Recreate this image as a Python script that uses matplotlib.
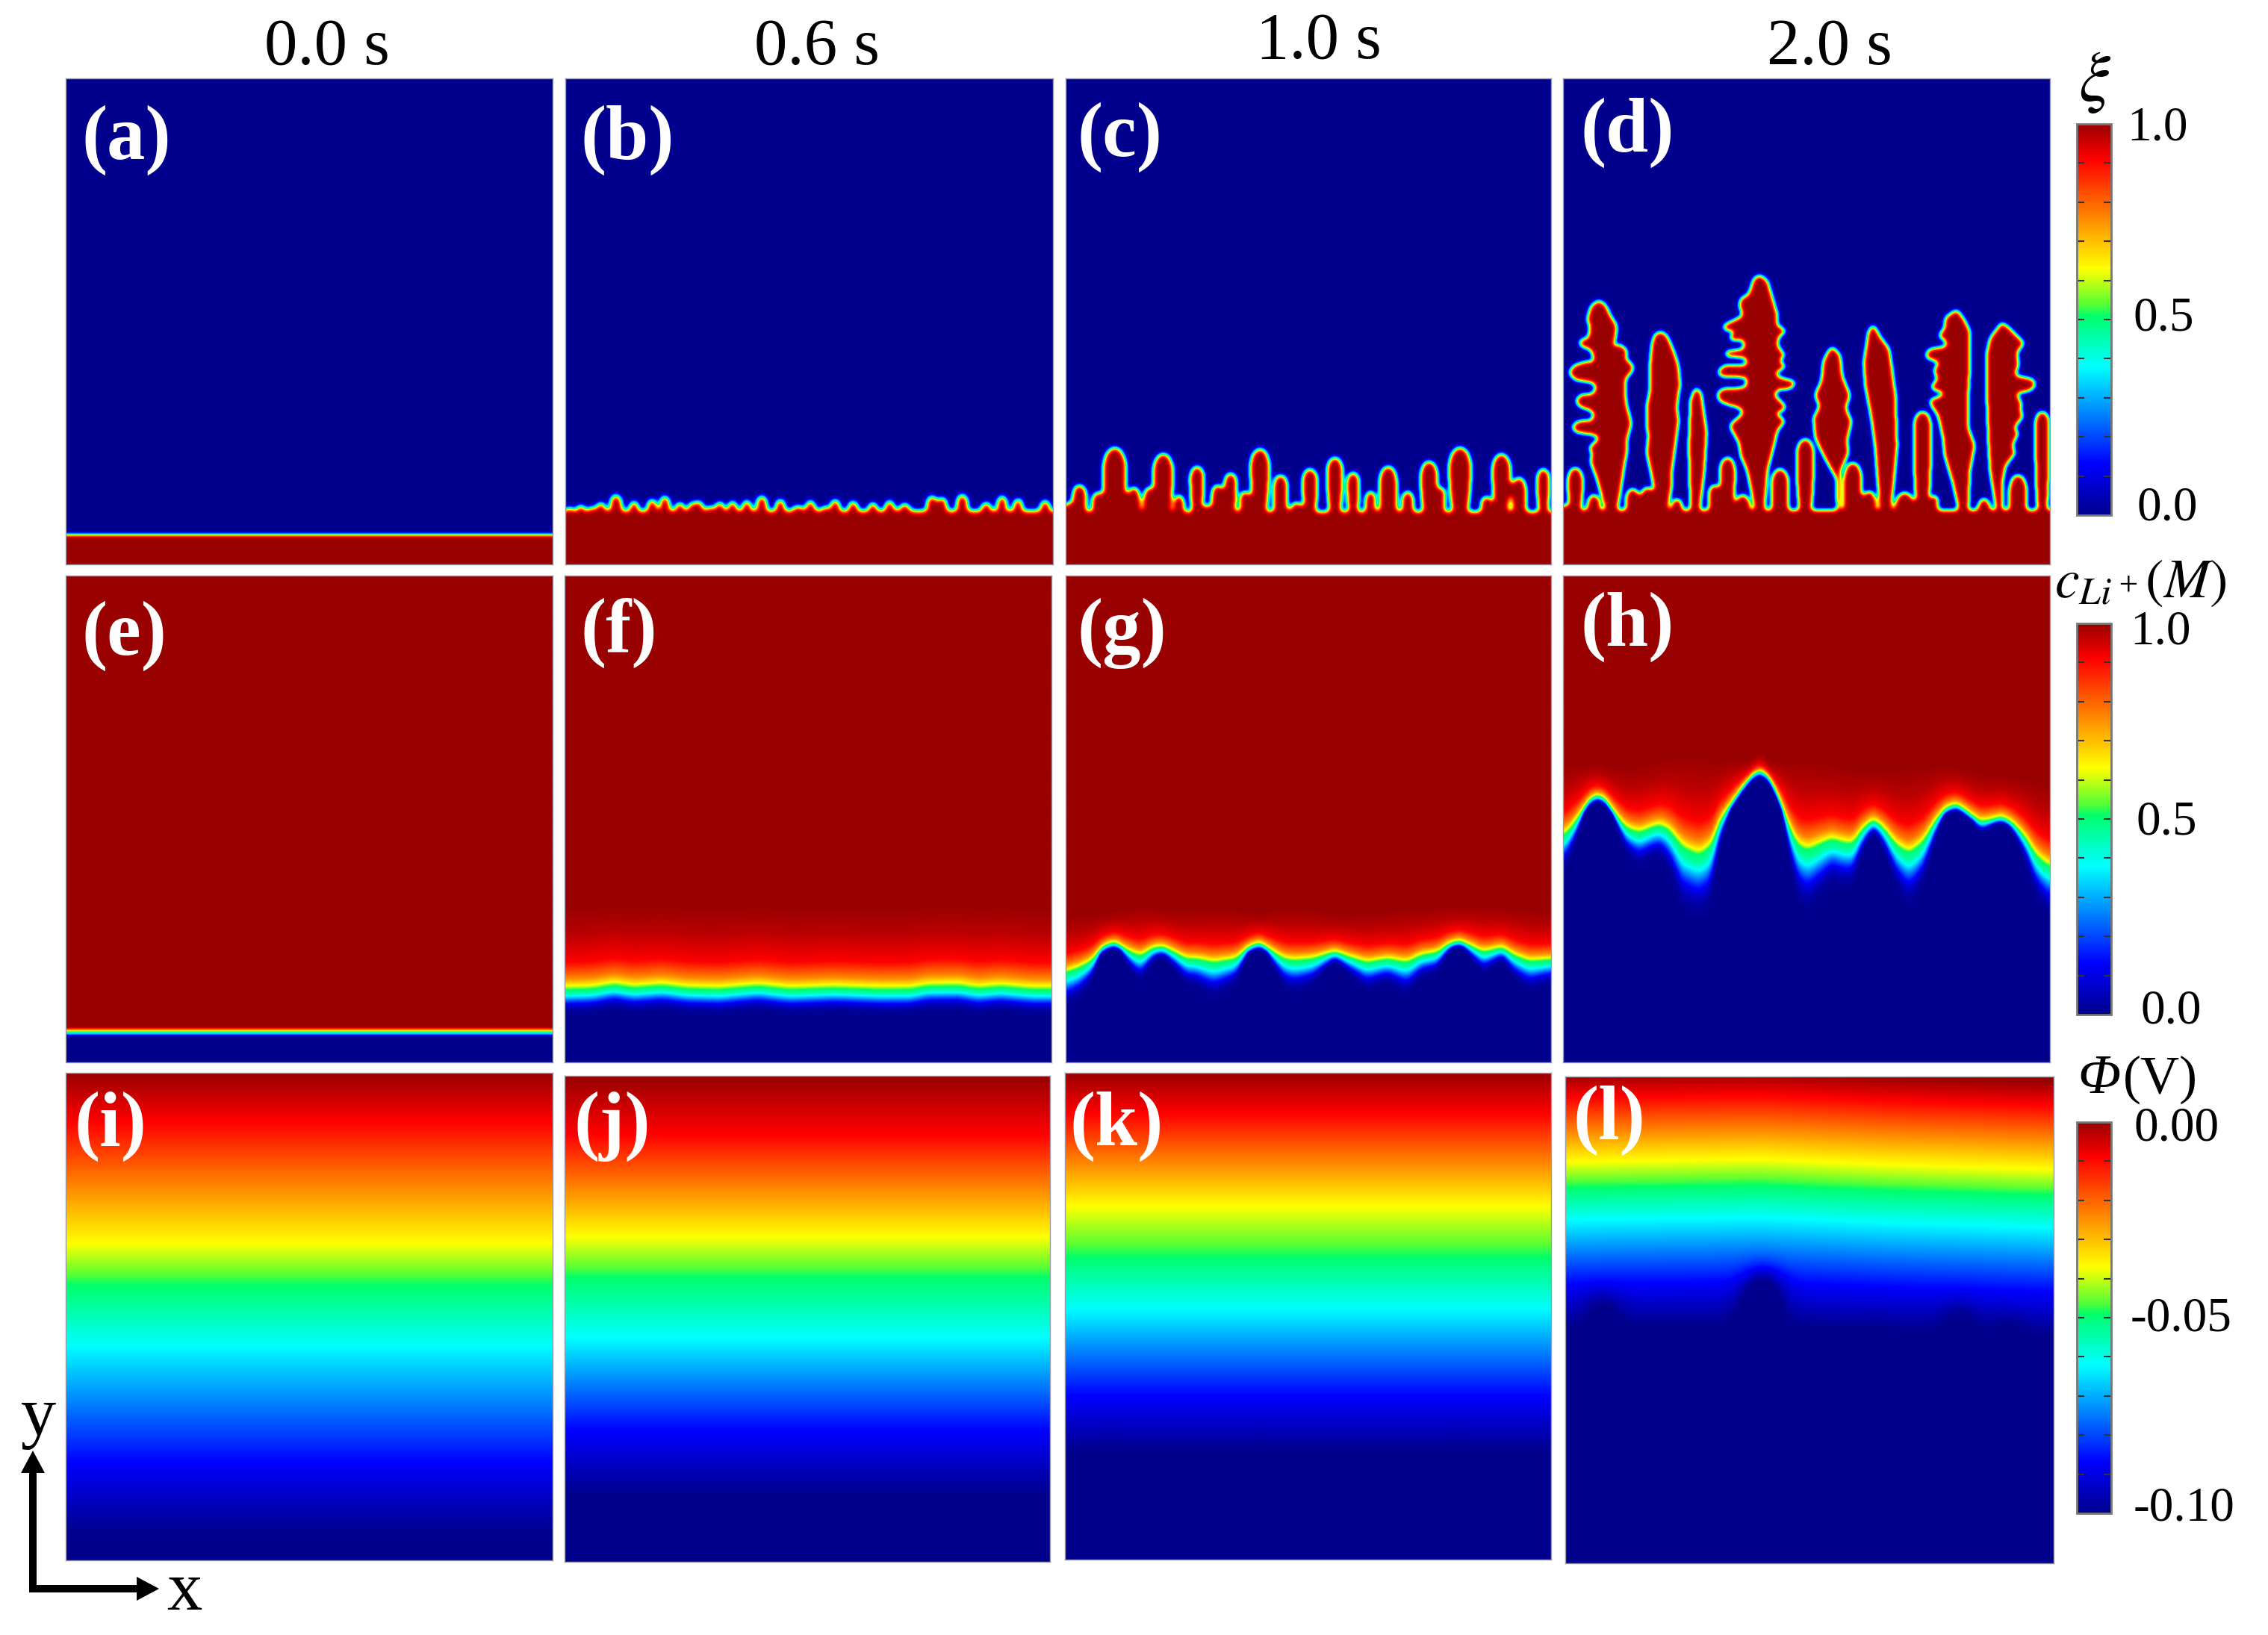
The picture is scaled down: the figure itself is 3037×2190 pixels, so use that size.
import numpy as np
import matplotlib
matplotlib.use('Agg')
import matplotlib.pyplot as plt
from matplotlib.path import Path
from matplotlib.cm import ScalarMappable
from matplotlib.colors import Normalize, LinearSegmentedColormap

plt.rcParams['font.family'] = ['Liberation Serif', 'DejaVu Serif']
plt.rcParams['mathtext.fontset'] = 'stix'

W_PX, H_PX = 3037, 2190

time_labels = ['0.0 s', '0.6 s', '1.0 s', '2.0 s']
time_x = [438, 1094, 1766, 2450]
time_y = [64, 64, 56, 64]

panel_names = ['(a)', '(b)', '(c)', '(d)', '(e)', '(f)', '(g)', '(h)', '(i)', '(j)', '(k)', '(l)']
panel_boxes = [(88, 105, 740, 756), (757, 105, 1410, 756), (1427, 105, 2077, 756), (2093, 105, 2745, 756),
               (88, 771, 740, 1423), (756, 771, 1408, 1423), (1427, 771, 2077, 1423), (2093, 771, 2745, 1423),
               (88, 1437, 740, 2090), (756, 1441, 1406, 2092), (1426, 1437, 2077, 2089), (2096, 1442, 2750, 2094)]
label_xy = [(110, 188), (778, 188), (1443, 184), (2117, 178),
            (110, 852), (778, 848), (1443, 848), (2117, 840),
            (100, 1509), (769, 1509), (1433, 1509), (2107, 1501)]

# colour bar of the picture, position and colour
cmap_pos = [0.0, 0.13, 0.38, 0.51, 0.54, 0.63, 0.91, 1.0]
cmap_col = [(0, 0, 0.55), (0, 0, 1), (0, 1, 1), (0, 1, 0.42), (0.35, 1, 0.2), (1, 1, 0), (1, 0, 0), (0.6, 0, 0)]
field_cmap = LinearSegmentedColormap.from_list('field', list(zip(cmap_pos, cmap_col)), N=512)

# crops the outlines were read from: left, top, x scale, y scale
CROP_B = (750, 640, 2.34, 3.0)
CROP_C = (1420, 560, 2.34, 3.0)
CROP_D = (2080, 330, 2.306, 3.0)
CROP_F = (750, 1240, 2.34, 3.0)
CROP_G = (1420, 1180, 2.34, 3.0)
CROP_H = (2080, 1000, 2.306, 3.0)
CROP_L = (2080, 1430, 2.306, 3.0)

# small fingers: centre x, tip y, half width
fingers_b = [(30, 120, 12), (65, 110, 10), (100, 118, 12), (128, 100, 12), (175, 70, 16), (232, 95, 12), (288, 88, 13),
             (328, 75, 13), (375, 100, 12), (415, 100, 12), (435, 95, 11), (470, 115, 11), (500, 98, 12), (540, 95, 12),
             (585, 92, 12), (632, 75, 14), (690, 88, 12), (745, 115, 25), (785, 92, 12), (830, 115, 10), (862, 88, 12),
             (918, 95, 13), (980, 100, 11), (1033, 92, 12), (1080, 105, 18), (1165, 75, 14), (1197, 80, 12),
             (1260, 68, 15), (1335, 100, 14), (1385, 75, 13), (1435, 85, 12), (1520, 92, 13)]
fingers_c = [(30, 340, 15), (60, 270, 20), (118, 300, 18), (170, 120, 34), (230, 280, 17), (280, 280, 17), (322, 145, 30),
             (372, 310, 13), (428, 195, 20), (460, 350, 12), (492, 270, 16), (533, 222, 18), (578, 295, 14), (625, 125, 28),
             (690, 230, 20), (740, 340, 20), (782, 205, 22), (860, 160, 23), (917, 220, 18), (972, 295, 14), (1027, 195, 25),
             (1088, 295, 16), (1155, 175, 25), (1192, 280, 12), (1252, 120, 33), (1335, 315, 15), (1382, 145, 27),
             (1437, 240, 20), (1513, 205, 18)]
fingers_d = [(40, 1040, 18), (68, 890, 22), (125, 1000, 18), (245, 975, 20), (290, 970, 20), (382, 1015, 15), (497, 960, 15),
             (538, 850, 22), (585, 1000, 22), (700, 895, 25), (778, 775, 25), (925, 870, 25), (975, 985, 20), (1085, 990, 30),
             (1140, 665, 25), (1178, 1000, 8), (1330, 1015, 18), (1435, 920, 25), (1510, 665, 20)]

# the tall dendrites of panel d
outlines_d = [
    [(165, 1065), (135, 930), (118, 870), (120, 820), (108, 810), (130, 790), (145, 765), (125, 755), (70, 745), (58, 725),
     (75, 705), (125, 700), (125, 660), (85, 645), (68, 620), (85, 598), (125, 595), (135, 560), (120, 545), (70, 535),
     (48, 510), (65, 480), (100, 465), (125, 470), (125, 440), (115, 410), (85, 400), (80, 380), (110, 370), (115, 320),
     (105, 295), (118, 240), (140, 218), (160, 235), (175, 280), (195, 320), (190, 370), (180, 410), (205, 395), (228, 420),
     (220, 450), (245, 480), (245, 500), (222, 530), (220, 590), (225, 640), (240, 710), (225, 780), (225, 830), (215, 900),
     (210, 950), (195, 1065)],
    [(325, 1065), (305, 920), (290, 830), (295, 760), (290, 720), (290, 640), (300, 580), (300, 480), (305, 400), (312, 360),
     (330, 342), (350, 360), (370, 420), (385, 480), (390, 560), (385, 590), (380, 650), (385, 700), (375, 800), (365, 900),
     (365, 960), (350, 1065)],
    [(425, 1065), (420, 800), (425, 620), (440, 565), (455, 590), (472, 750), (465, 900), (450, 1065)],
    [(625, 1065), (600, 900), (580, 840), (575, 790), (545, 720), (590, 670), (580, 650), (520, 625), (505, 600), (520, 575),
     (595, 570), (600, 525), (515, 520), (510, 500), (530, 480), (600, 480), (595, 445), (535, 440), (530, 425), (590, 415),
     (590, 375), (545, 375), (550, 355), (590, 340), (530, 335), (525, 320), (570, 290), (590, 280), (575, 240), (580, 210),
     (605, 195), (620, 130), (637, 115), (660, 140), (680, 230), (690, 270), (690, 320), (720, 340), (695, 360), (690, 400),
     (715, 440), (690, 460), (720, 480), (680, 510), (700, 530), (748, 545), (735, 570), (690, 575), (680, 600), (715, 640),
     (715, 655), (680, 670), (715, 700), (690, 740), (680, 800), (660, 900), (650, 1065)],
    [(878, 1065), (875, 930), (840, 850), (810, 770), (805, 690), (825, 640), (808, 600), (830, 540), (835, 460), (860, 402),
     (885, 440), (890, 520), (915, 600), (900, 650), (920, 700), (905, 780), (910, 830), (885, 900), (885, 1065)],
    [(1010, 1065), (995, 800), (985, 700), (965, 560), (960, 470), (975, 340), (988, 315), (1010, 370), (1035, 410), (1045, 500),
     (1055, 600), (1060, 800), (1050, 950), (1040, 1065)],
    [(1255, 1065), (1235, 950), (1210, 840), (1205, 770), (1190, 680), (1160, 620), (1205, 600), (1205, 585), (1165, 570),
     (1190, 530), (1175, 500), (1195, 465), (1150, 445), (1160, 415), (1215, 405), (1215, 380), (1190, 360), (1210, 330),
     (1210, 290), (1245, 255), (1270, 300), (1285, 340), (1285, 480), (1280, 600), (1280, 730), (1300, 800), (1285, 900),
     (1280, 1065)],
    [(1370, 1065), (1350, 900), (1345, 780), (1340, 600), (1340, 430), (1350, 370), (1387, 305), (1420, 350), (1455, 390),
     (1430, 420), (1435, 480), (1420, 520), (1480, 535), (1488, 560), (1470, 578), (1425, 590), (1445, 630), (1440, 660),
     (1450, 680), (1420, 730), (1435, 750), (1415, 800), (1425, 830), (1395, 880), (1385, 950), (1385, 1065)],
]

# green line of the concentration panels
iface_f = [(15, 258), (100, 255), (170, 240), (230, 252), (320, 243), (400, 255), (500, 258), (620, 245), (720, 258), (860, 252),
           (1000, 258), (1100, 257), (1150, 245), (1250, 243), (1310, 255), (1380, 247), (1480, 258), (1535, 258)]
iface_g = [(15, 370), (60, 350), (100, 320), (130, 265), (170, 245), (210, 280), (250, 305), (290, 270), (322, 265), (360, 290),
           (395, 315), (425, 315), (480, 330), (550, 315), (590, 265), (625, 248), (660, 280), (700, 315), (730, 322), (790, 315),
           (825, 300), (860, 285), (900, 305), (960, 330), (1025, 315), (1085, 330), (1130, 300), (1180, 290), (1215, 255),
           (1250, 240), (1290, 265), (1325, 288), (1385, 268), (1420, 300), (1470, 325), (1535, 318)]
iface_h = [(30, 365), (60, 320), (90, 260), (110, 215), (135, 195), (160, 210), (190, 270), (225, 330), (265, 350), (300, 330),
           (330, 318), (360, 340), (400, 410), (450, 440), (490, 400), (510, 310), (545, 240), (575, 180), (610, 120), (637, 95),
           (665, 120), (695, 200), (730, 330), (755, 400), (785, 420), (825, 395), (860, 375), (895, 390), (925, 395), (950, 340),
           (988, 295), (1020, 330), (1060, 400), (1098, 432), (1140, 390), (1180, 300), (1210, 250), (1245, 232), (1275, 260),
           (1320, 305), (1355, 295), (1385, 283), (1420, 310), (1460, 370), (1490, 440), (1530, 485)]

# concentration above the line, against distance / distance of the red band
c_dist = [0.0, 0.14, 0.4, 1.0, 2.0, 3.0]
c_vals = [0.5, 0.63, 0.76, 0.91, 0.97, 1.0]

# potential (V) against depth in the panel, one row of depths per panel
phi_vals = [0.0, -0.009, -0.037, -0.049, -0.062, -0.087, -0.1]
phi_depth_i = [0.0, 0.10, 0.35, 0.435, 0.56, 0.80, 0.945]
phi_depth_j = [0.0, 0.12, 0.33, 0.415, 0.54, 0.73, 0.865]
phi_depth_k = [0.0, 0.085, 0.275, 0.38, 0.485, 0.665, 0.78]
phi_depth_l = [0.0, 0.048, 0.18, 0.233, 0.30, 0.432, 0.52]
tilt_l = [(50, 480), (640, 470), (1000, 490), (1530, 510)]

cbar_boxes = [(2781, 166, 2827, 690), (2781, 835, 2827, 1359), (2781, 1503, 2827, 2027)]
cbar_ranges = [(0.0, 1.0), (0.0, 1.0), (-0.1, 0.0)]
cbar_labels = [['1.0', '0.5', '0.0'], ['1.0', '0.5', '0.0'], ['0.00', '-0.05', '-0.10']]
cbar_label_x = [[2848, 2857, 2862], [2852, 2861, 2867], [2858, 2853, 2857]]
cbar_label_y = [[172, 427, 681], [847, 1102, 1355], [1512, 1767, 2021]]


def blur(a, s):
    r = int(4 * s)
    k = np.exp(-(np.arange(-r, r + 1) / s) ** 2 / 2)
    k /= k.sum()
    b = np.pad(a, r, mode='edge')
    b = np.apply_along_axis(lambda v: np.convolve(v, k, 'same'), 0, b)
    b = np.apply_along_axis(lambda v: np.convolve(v, k, 'same'), 1, b)
    return b[r:-r, r:-r]


def grid(box):
    x0, y0, x1, y1 = box
    return np.meshgrid(np.arange(x0, x1) + 0.5, np.arange(y0, y1) + 0.5)


def add_fingers(m, X, Y, fingers, crop, ybase):
    cx, cy, sx, sy = crop
    yb = cy + ybase / sy
    for xc, tip, hw in fingers:
        xc = cx + xc / sx
        tip = cy + tip / sy
        hw = hw / sx
        t = np.clip((Y - tip) / (2 * hw), 0, 1)
        w = hw * np.sqrt(1 - (1 - t) ** 2)
        if yb - tip > 6 * hw:
            w = w * (1 - 0.35 * np.clip((Y - tip) / (yb - tip), 0, 1) ** 3)
        m[(np.abs(X - xc) < w) & (Y > tip) & (Y < yb + 3)] = 1.0
    return m


def xi_field(box, fingers=None, crop=None, ybase=None, outlines=None, yflat=716.0, s=2.5):
    X, Y = grid(box)
    m = np.zeros(X.shape)
    if fingers is None:
        m[Y > yflat] = 1.0
        return blur(m, s)
    cx, cy, sx, sy = crop
    m[Y > cy + ybase / sy] = 1.0
    m = add_fingers(m, X, Y, fingers, crop, ybase)
    pts = np.column_stack([X.ravel(), Y.ravel()])
    for out in outlines or []:
        px = [cx + p[0] / sx for p in out]
        py = [cy + p[1] / sy for p in out]
        inside = Path(np.column_stack([px, py])).contains_points(pts).reshape(X.shape)
        m[inside] = 1.0
    # round off the joints first, then soften the edge
    m = (blur(m, 3.0) > 0.36).astype(float)
    return blur(m, s)


def conc_field(box, iface, crop, r0, rk, l0, lk, win, lmin=5.0, rmin=8.0, lmax=40.0):
    X, Y = grid(box)
    cx, cy, sx, sy = crop
    ix = np.array([cx + p[0] / sx for p in iface])
    iy = np.array([cy + p[1] / sy for p in iface])
    xs = X[0]
    h = np.interp(xs, ix, iy)
    h = blur(np.tile(h, (3, 1)), 4.0)[1]
    pad = win // 2
    hs = np.convolve(np.pad(h, pad, mode='edge'), np.ones(2 * pad + 1) / (2 * pad + 1), 'valid')
    delta = hs - h  # positive on a peak
    R = np.clip(r0 - rk * delta, rmin, None)[None, :]
    L = np.clip(l0 - lk * delta, lmin, lmax)[None, :]
    d = h[None, :] - Y
    up = np.interp(d / R, c_dist, c_vals)
    low = 0.5 * np.exp(-(d / L) ** 2)
    return blur(np.where(d >= 0, up, low), 1.5)


def phi_field(box, depth, xi, gain=0.0, s=10.0, tilt=None, crop=None):
    X, Y = grid(box)
    z = (Y - box[1]) / (box[3] - box[1])
    if tilt is not None:
        cx, cy, sx, sy = crop
        tx = [cx + p[0] / sx for p in tilt]
        ty = [p[1] / sy for p in tilt]
        z = z - (np.interp(X, tx, ty) - 490 / sy) / (box[3] - box[1])
    f = np.interp(z, depth, phi_vals)
    if gain > 0:
        mm = xi
        if mm.shape != f.shape:
            rows = np.linspace(0, mm.shape[0] - 1, f.shape[0]).astype(int)
            cols = np.linspace(0, mm.shape[1] - 1, f.shape[1]).astype(int)
            mm = mm[rows][:, cols]
        f = -0.1 + (f + 0.1) * (1 - np.clip(gain * blur(mm, s), 0, 1))
    return f


xi_a = xi_field(panel_boxes[0])
xi_b = xi_field(panel_boxes[1], fingers_b, CROP_B, 135, s=3.5)
xi_c = xi_field(panel_boxes[2], fingers_c, CROP_C, 378, s=3.2)
xi_d = xi_field(panel_boxes[3], fingers_d, CROP_D, 1062, outlines_d, s=3.0)

X_e, Y_e = grid(panel_boxes[4])
c_e = np.interp(1382.0 - Y_e, [-6, -3, 0, 3, 6], [0.0, 0.3, 0.5, 0.8, 1.0])
c_e = blur(c_e, 0.8)
c_f = conc_field(panel_boxes[5], iface_f, CROP_F, 37.0, 0.1, 16.0, 0.1, 160)
c_g = conc_field(panel_boxes[6], iface_g, CROP_G, 21.0, 0.4, 14.0, 0.8, 160)
c_h = conc_field(panel_boxes[7], iface_h, CROP_H, 28.0, 0.33, 18.0, 0.55, 250)

phi_i = phi_field(panel_boxes[8], phi_depth_i, xi_a)
phi_j = phi_field(panel_boxes[9], phi_depth_j, xi_b)
phi_k = phi_field(panel_boxes[10], phi_depth_k, xi_c, gain=1.0, s=12.0)
phi_l = phi_field(panel_boxes[11], phi_depth_l, xi_d, gain=2.5, s=16.0, tilt=tilt_l, crop=CROP_L)

fields = [xi_a, xi_b, xi_c, xi_d, c_e, c_f, c_g, c_h, phi_i, phi_j, phi_k, phi_l]
ranges = [(0, 1)] * 8 + [(-0.1, 0)] * 4

fig = plt.figure(figsize=(W_PX / 100, H_PX / 100), dpi=100)


def px_axes(box, **kw):
    x0, y0, x1, y1 = box
    return fig.add_axes([x0 / W_PX, 1 - y1 / H_PX, (x1 - x0) / W_PX, (y1 - y0) / H_PX], **kw)


for box, fld, (lo, hi) in zip(panel_boxes, fields, ranges):
    ax = px_axes(box)
    ax.imshow(fld, cmap=field_cmap, vmin=lo, vmax=hi, aspect='auto', interpolation='bilinear')
    ax.set_xticks([])
    ax.set_yticks([])
    for sp in ax.spines.values():
        sp.set_color('#9a9aa8')
        sp.set_linewidth(1.0)

for box, (lo, hi) in zip(cbar_boxes, cbar_ranges):
    cax = px_axes(box)
    cb = fig.colorbar(ScalarMappable(Normalize(lo, hi), cmap=field_cmap), cax=cax)
    cb.set_ticks(np.linspace(lo, hi, 11)[1:-1])
    cax.tick_params(direction='in', left=True, right=True, length=7, width=1.5, color='#333333',
                    labelleft=False, labelright=False)
    cb.outline.set_edgecolor('#777777')
    cb.outline.set_linewidth(2.0)

# everything else goes on one transparent layer in picture pixels
top = fig.add_axes([0, 0, 1, 1], zorder=10)
top.set_xlim(0, W_PX)
top.set_ylim(H_PX, 0)
top.axis('off')
top.patch.set_alpha(0)

for t, x, y in zip(time_labels, time_x, time_y):
    top.text(x, y, t, fontsize=64, ha='center', va='center', color='black')

for name, (x, y) in zip(panel_names, label_xy):
    top.text(x, y, name, fontsize=74, fontweight='bold', color='white', ha='left', va='center')

for labs, xs, ys in zip(cbar_labels, cbar_label_x, cbar_label_y):
    for lab, x, y in zip(labs, xs, ys):
        top.text(x, y, lab, fontsize=47, ha='left', va='center', color='black')

top.text(2805, 111, r'$\xi$', fontsize=68, ha='center', va='center')
top.text(2866, 782, r'$c_{Li^+}(M)$', fontsize=53, ha='center', va='center')
top.text(2811, 1446, '\u03a6', fontsize=54, fontstyle='italic', ha='center', va='center')
top.text(2843, 1446, '(V)', fontsize=52, ha='left', va='center')

top.arrow(44, 2133, 0, -190, width=10, head_width=32, head_length=30, length_includes_head=True, color='black', lw=0)
top.arrow(39, 2128, 174, 0, width=10, head_width=32, head_length=30, length_includes_head=True, color='black', lw=0)
top.text(52, 1900, 'y', fontsize=68, ha='center', va='center')
top.text(247, 2134, 'x', fontsize=68, ha='center', va='center')

fig.savefig('out.png', dpi=100, facecolor='white')
